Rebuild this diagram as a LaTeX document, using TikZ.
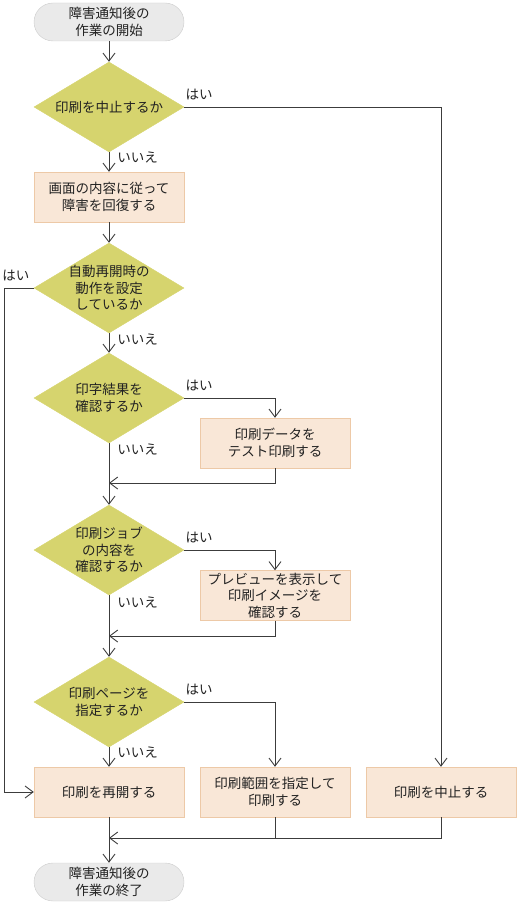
\documentclass[tikz,border=0pt]{standalone}
\usepackage{fontspec}
\usepackage{xcolor}
\newfontfamily\jpfont{Noto Sans CJK JP}
\usetikzlibrary{positioning,arrows.meta,shapes.geometric}
\definecolor{fcline}{HTML}{3C3C3C}
\definecolor{fcolive}{HTML}{D6D46E}
\definecolor{fcpeach}{HTML}{F9E7D7}
\definecolor{fcpeachline}{HTML}{EDC9A7}
\definecolor{fcgray}{HTML}{EAEAEA}
\definecolor{fcgrayline}{HTML}{CCCCCC}
\definecolor{fctext}{HTML}{222222}

\begin{document}
\begin{tikzpicture}[
  x=1pt, y=-1pt,
  font=\jpfont\fontsize{13.5pt}{16.5pt}\selectfont\color{fctext},
  term/.style={draw=fcgrayline, fill=fcgray, rounded corners=19pt, minimum width=150pt, minimum height=38pt, align=center, inner sep=0pt},
  ask/.style={diamond, draw=fcolive, fill=fcolive, minimum width=150pt, minimum height=90pt, aspect=1.67, align=center, inner sep=-4pt},
  task/.style={draw=fcpeachline, fill=fcpeach, minimum width=150pt, minimum height=50pt, align=center, inner sep=0pt},
  lbl/.style={inner sep=1pt},
  arr/.style={-{Straight Barb[length=8pt,width=12pt]}, line width=0.9pt, draw=fcline},
  ln/.style={line width=0.9pt, draw=fcline}
]
\useasboundingbox (0,0) rectangle (520,904);

\node[term] (begin) at (109,22) {障害通知後の\\作業の開始};
\node[ask] (q1) at (109,107) {印刷を中止するか};
\node[task] (recover) at (109,197) {画面の内容に従って\\障害を回復する};
\node[ask] (q2) at (109,288) {自動再開時の\\動作を設定\\しているか};
\node[ask] (q3) at (109,398) {印字結果を\\確認するか};
\node[task] (testprint) at (275,443) {印刷データを\\テスト印刷する};
\node[ask] (q4) at (109,550) {印刷ジョブ\\の内容を\\確認するか};
\node[task] (preview) at (275,595.5) {プレビューを表示して\\印刷イメージを\\確認する};
\node[ask] (q5) at (109,702) {印刷ページを\\指定するか};
\node[task] (resume) at (109,792) {印刷を再開する};
\node[task] (range) at (275,792) {印刷範囲を指定して\\印刷する};
\node[task] (cancel) at (441,792) {印刷を中止する};
\node[term] (finish) at (109,882) {障害通知後の\\作業の終了};

\coordinate (side) at (4,288);
\coordinate (back1) at (109,483);
\coordinate (back2) at (109,636);
\coordinate (merge) at (109,838);

% main line
\draw[arr] (begin) -- (q1);
\draw[arr] (q1) -- node[lbl, pos=0.25, right=7pt]{いいえ} (recover);
\draw[arr] (recover) -- (q2);
\draw[arr] (q2) -- node[lbl, pos=0.3, right=7pt]{いいえ} (q3);
\draw[arr] (q3) -- node[lbl, pos=0.1, right=7pt]{いいえ} (q4);
\draw[arr] (q4) -- node[lbl, pos=0.12, right=7pt]{いいえ} (q5);
\draw[arr] (q5) -- node[lbl, pos=0.25, right=7pt]{いいえ} (resume);
\draw[arr] (resume) -- (finish);

% yes branches
\draw[arr] (q1.east) node[lbl, above right=6pt and 0pt]{はい} -| (cancel);
\draw[arr] (q2.west) node[lbl, above left=6pt and 3pt]{はい} -- (side) |- (resume);
\draw[arr] (q3.east) node[lbl, above right=6pt and 0pt]{はい} -| (testprint);
\draw[arr] (q4.east) node[lbl, above right=6pt and 0pt]{はい} -| (preview);
\draw[arr] (q5.east) node[lbl, above right=6pt and 0pt]{はい} -| (range);

% returns
\draw[arr] (testprint) |- (back1);
\draw[arr] (preview) |- (back2);
\draw[arr] (cancel) |- (merge);
\draw[ln] (range) -- (range |- merge);
\end{tikzpicture}
\end{document}
